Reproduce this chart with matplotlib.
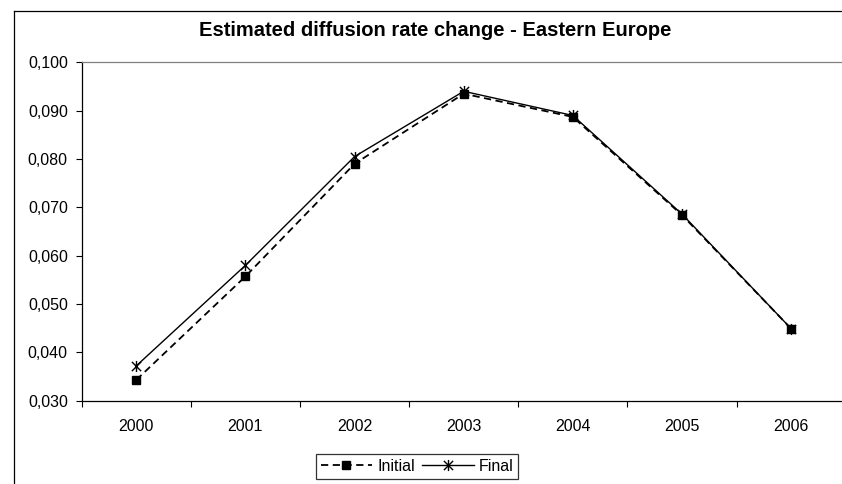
import numpy as np
import matplotlib
matplotlib.use("Agg")
import matplotlib.pyplot as plt
from matplotlib.lines import Line2D
from matplotlib.path import Path
from matplotlib.ticker import FuncFormatter, FixedLocator

years = ['2000', '2001', '2002', '2003', '2004', '2005', '2006']
initial = [0.0343, 0.0557, 0.0790, 0.0935, 0.0887, 0.0684, 0.0449]
final = [0.0372, 0.0580, 0.0805, 0.0940, 0.0890, 0.0686, 0.0449]
title = 'Estimated diffusion rate change - Eastern Europe'

plt.rcParams['font.family'] = ['Liberation Sans', 'DejaVu Sans']

# excel-like star: an X with a vertical bar through it
star = Path([(-1, -1), (1, 1), (-1, 1), (1, -1), (0, -1.2), (0, 1.2)],
            [Path.MOVETO, Path.LINETO] * 3)

W, H = 842, 484
fig = plt.figure(figsize=(W / 100, H / 100), dpi=100)
fig.patch.set_facecolor('white')

# plot area in pixel coords (it runs a bit past the right edge, as in the source)
left, right, top, bottom = 81.7, 845.7, 62.3, 400.7
ax = fig.add_axes([left / W, 1 - bottom / H, (right - left) / W, (bottom - top) / H])

x = np.arange(len(years))
ax.plot(x, initial, color='black', lw=1.3, ls=(0, (4, 2.5)),
        marker='s', ms=5.5, mfc='black', mec='black', label='Initial')
ax.plot(x, final, color='black', lw=1.0, ls='-',
        marker=star, ms=8, mew=1.0, mec='black', label='Final')

ax.set_xlim(-0.5, len(years) - 0.5)
ax.set_ylim(0.030, 0.100)
ax.set_yticks(np.arange(0.030, 0.1001, 0.010))
ax.yaxis.set_major_formatter(FuncFormatter(lambda v, p: f'{v:.3f}'.replace('.', ',')))
ax.set_xticks(x)
ax.set_xticklabels(years)
ax.xaxis.set_minor_locator(FixedLocator(np.arange(-0.5, len(years), 1.0)))
ax.tick_params(axis='x', which='major', length=0, pad=13, labelsize=11.5)
ax.tick_params(axis='x', which='minor', length=4, direction='out', width=0.8)
ax.tick_params(axis='y', length=4, direction='out', width=0.8, pad=6, labelsize=11.5)

for s in ['left', 'bottom']:
    ax.spines[s].set_color('black')
    ax.spines[s].set_linewidth(0.9)
ax.spines['top'].set_color('#808080')
ax.spines['top'].set_linewidth(0.9)
ax.spines['right'].set_visible(False)

# outer chart border (left and top edges visible)
fig.add_artist(Line2D([13.5 / W, 13.5 / W], [0, 1 - 10.5 / H], color='black', lw=0.9))
fig.add_artist(Line2D([13.5 / W, 1], [1 - 10.5 / H, 1 - 10.5 / H], color='black', lw=0.9))

fig.text(435 / W, 1 - 31 / H, title, ha='center', va='center',
         fontsize=14.5, fontweight='bold')

leg = fig.legend(loc='upper center', bbox_to_anchor=(417 / W, 1 - 454 / H), ncol=2,
                 fontsize=11.5, frameon=True, fancybox=False, handlelength=3.25,
                 handletextpad=0.3, columnspacing=0.45, borderpad=0.3,
                 borderaxespad=0)
leg.get_frame().set_edgecolor('black')
leg.get_frame().set_linewidth(0.9)

fig.savefig('out.png', dpi=100)
